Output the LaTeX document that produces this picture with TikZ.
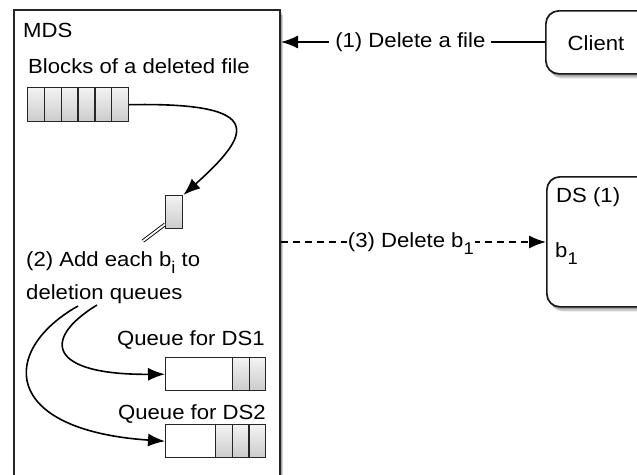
\documentclass[tikz,border=0pt]{standalone}
\usepackage{fontspec}
\setmainfont{Liberation Sans}[FakeStretch=1.08]
\usetikzlibrary{arrows.meta,shadows}
% subscript set lower and larger than the default one, without changing the line box
\newcommand\lowsub[1]{\raisebox{-7pt}[0pt][0pt]{\fontsize{17}{17}\selectfont #1}}
\tikzset{
  x=1pt, y=-1pt,
  lbl/.style={font=\fontsize{20.5}{24}\selectfont, inner sep=0pt},
  softshadow/.style={
    general shadow={fill=black, opacity=0.18, shadow xshift=3pt, shadow yshift=-4.5pt},
    general shadow={fill=black, opacity=0.22, shadow xshift=1.5pt, shadow yshift=-2.5pt}},
  server/.style={draw=black!85, line width=2pt, fill=white, softshadow},
  host/.style={draw=black!90, line width=1.7pt, fill=white, rounded corners=13pt, softshadow},
  cell/.style={draw=black!85, line width=1.4pt, top color=gray!10, bottom color=gray!40},
  slot/.style={draw=black!85, line width=1.4pt, fill=white},
  flow/.style={line width=1.6pt, -{Latex[length=17pt,width=13pt]}},
}
\begin{document}
\begin{tikzpicture}
\useasboundingbox (0,0) rectangle (637,474);
\fill[white] (0,0) rectangle (637,474);

% metadata server
\node[server, minimum width=266pt, minimum height=490pt, anchor=north west] (mds) at (13,9) {};
\node[lbl, anchor=base west] (mdst) at (23,37) {MDS};
\node[lbl, anchor=base west] (blkt) at (28,73) {Blocks of a deleted file};

% blocks of the deleted file
\foreach \i in {1,...,6}{
  \node[cell, minimum width=16.8pt, minimum height=34pt, anchor=north west, inner sep=0pt]
    (c\i) at ({27+(\i-1)*16.8},87) {};
}

% one block taken from the file
\node[cell, minimum width=17pt, minimum height=33pt, anchor=north west, inner sep=0pt] (one) at (165,195) {};
\coordinate (dd) at (143,241);
\draw[double=white, double distance=1.8pt, line width=0.9pt] (one.south west) ++(0,-5) -- (dd);

\draw[flow] (c6.east) .. controls (270,102) and (250,135) .. (one.north east);

\node[lbl, anchor=base west] (addt) at (26,266) {(2) Add each b\lowsub{i} to};
\node[lbl, anchor=base west] (delq) at (26,299) {deletion queues};

% deletion queues
\node[lbl, anchor=base east] (q1t) at (265,345) {Queue for DS1};
\node[slot, minimum width=100pt, minimum height=33pt, anchor=north west, inner sep=0pt] (q1) at (165,357) {};
\node[cell, minimum width=16.5pt, minimum height=33pt, anchor=north west, inner sep=0pt] (q1a) at (232,357) {};
\node[cell, minimum width=16.5pt, minimum height=33pt, anchor=north west, inner sep=0pt] (q1b) at (248.5,357) {};

\node[lbl, anchor=base east] (q2t) at (266,419) {Queue for DS2};
\node[slot, minimum width=100pt, minimum height=33pt, anchor=north west, inner sep=0pt] (q2) at (165,424) {};
\node[cell, minimum width=16.7pt, minimum height=33pt, anchor=north west, inner sep=0pt] (q2a) at (215,424) {};
\node[cell, minimum width=16.7pt, minimum height=33pt, anchor=north west, inner sep=0pt] (q2b) at (231.7,424) {};
\node[cell, minimum width=16.6pt, minimum height=33pt, anchor=north west, inner sep=0pt] (q2c) at (248.4,424) {};

\coordinate (s1) at (97,305);
\coordinate (s2) at (78,306);
\draw[flow] (s1) .. controls (40,340) and (50,375) .. (q1.west);
\draw[flow] (s2) .. controls (0,350) and (0,430) .. (q2.west);

% client
\node[host, minimum width=110pt, minimum height=63pt, anchor=north west] (client) at (545,10) {};
\node[lbl, anchor=base] (clientt) at (596,50) {Client};

% data server
\node[host, minimum width=110pt, minimum height=130pt, anchor=north west] (ds) at (546,176) {};
\node[lbl, anchor=base west] (dst) at (556,202) {DS (1)};
\node[lbl, anchor=base west] (dsb) at (555,257) {b\lowsub{1}};

% messages
\draw[flow] (client.west |- 0,42) -- node[lbl, fill=white, inner xsep=6pt, inner ysep=3pt, pos=0.51] {(1) Delete a file} (mds.east |- 0,42);
\draw[flow, dashed, dash pattern=on 7pt off 5pt] (mds.east |- 0,242) -- node[lbl, fill=white, inner xsep=1pt, inner ysep=3pt, pos=0.49] {(3) Delete b\lowsub{1}} (ds.west |- 0,242);
\end{tikzpicture}
\end{document}
